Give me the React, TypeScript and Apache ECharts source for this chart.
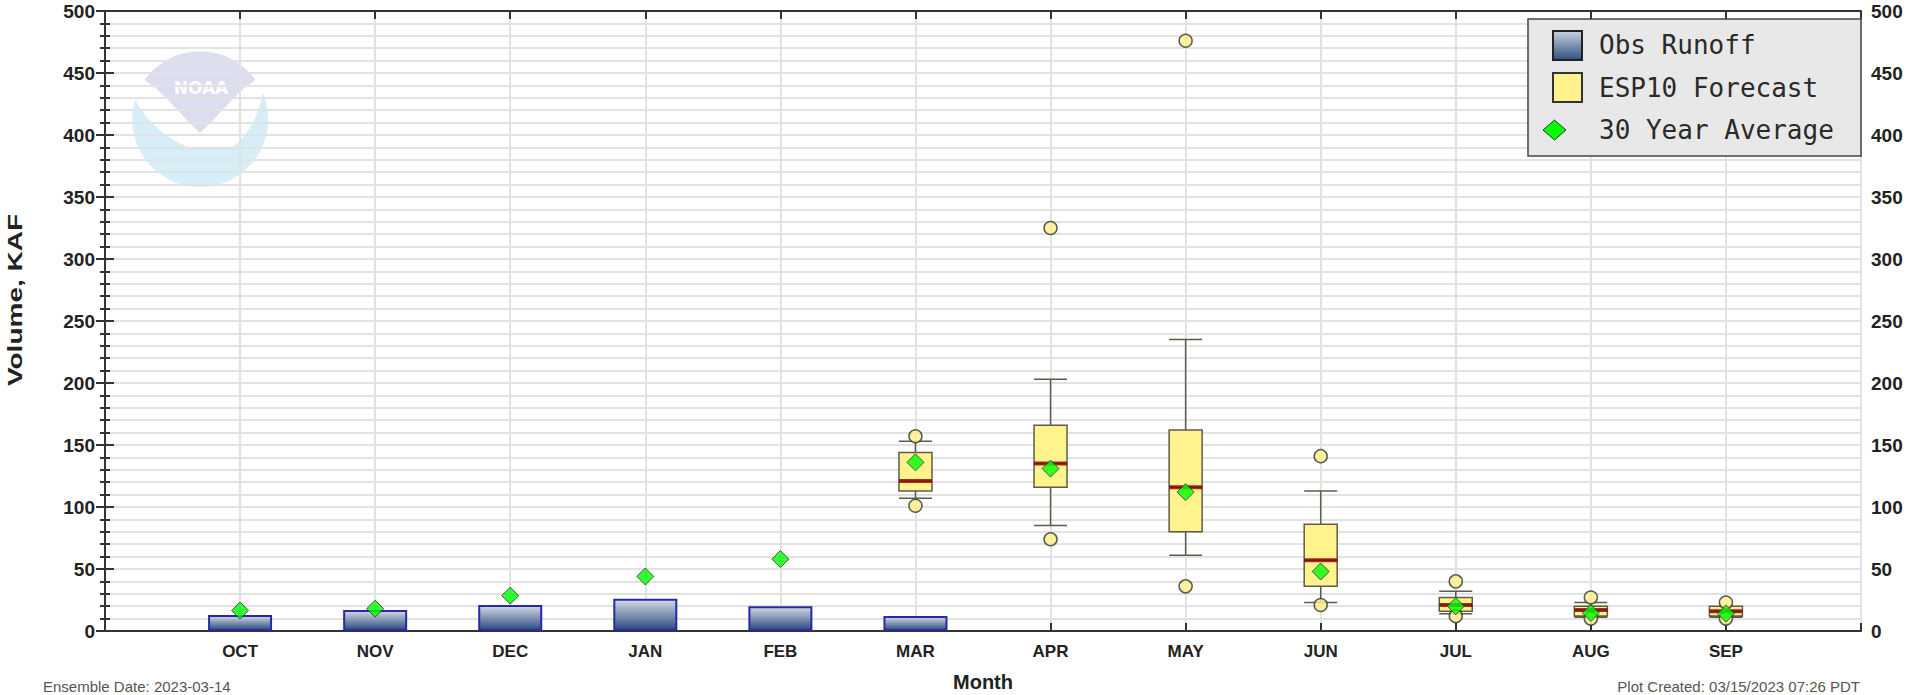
import React, { useEffect, useRef } from 'react';
import * as echarts from 'echarts';

// ---------- data ----------
const months = ['OCT', 'NOV', 'DEC', 'JAN', 'FEB', 'MAR', 'APR', 'MAY', 'JUN', 'JUL', 'AUG', 'SEP'];
const obsMonths = ['OCT', 'NOV', 'DEC', 'JAN', 'FEB', 'MAR'];
const obsRunoff = [13, 17, 21, 26, 20, 12];
const avg30 = [16.5, 18, 28.5, 44, 58, 136, 131, 112, 48, 20, 14.5, 14];
const espMonths = ['MAR', 'APR', 'MAY', 'JUN', 'JUL', 'AUG', 'SEP'];
const espMin = [107, 85, 61, 23, 14, 11, 11];
const espQ1 = [113, 116, 80, 36, 16, 12, 12];
const espMedian = [121, 135, 116, 57, 21, 17, 16];
const espQ3 = [144, 166, 162, 86, 27, 20, 20];
const espMax = [153, 203, 235, 113, 32, 23, 20];
const espLowOutlier = [101, 74, 36, 21, 12, 10, 10];
const espHighOutlier = [157, 325, 476, 141, 40, 27, 23];
const legendLabels = ['Obs Runoff', 'ESP10 Forecast', '30 Year Average'];
const ensembleText = 'Ensemble Date: 2023-03-14';
const createdText = 'Plot Created: 03/15/2023 07:26 PDT';

// NOAA watermark shapes
const cyanPath = 'M 135 100 C 150 125 170 142 195 149 L 232 147 C 246 138 258 118 263 93 A 68 68 0 1 1 135 100 Z';
const topPath = 'M 144.5 80 A 68 68 0 0 1 255.5 80 C 236 92 218 117 200 133 C 182 117 164 92 144.5 80 Z';
echarts.graphic.registerShape('noaaCyan', echarts.graphic.extendPath(cyanPath, {}));
echarts.graphic.registerShape('noaaTop', echarts.graphic.extendPath(topPath, {}));

const xPos = (m: string) => months.indexOf(m) + 1;

const AXIS = '#333';
const GRID = '#e2e2e2';
const FONT = 'Liberation Sans';

export default function App() {
  const ref = useRef<HTMLDivElement>(null);
  useEffect(() => {
    if (!ref.current) return;
    const chart = echarts.init(ref.current, undefined, { renderer: 'svg' });

    const barGrad = new echarts.graphic.LinearGradient(0, 0, 0, 1, [
      { offset: 0, color: '#d2d9e3' },
      { offset: 1, color: '#2b4a7e' },
    ]);
    const legGrad = new echarts.graphic.LinearGradient(0, 0, 0, 1, [
      { offset: 0, color: '#c8d2e0' },
      { offset: 1, color: '#2f4f82' },
    ]);

    const yAxisBase = {
      type: 'value',
      min: 0,
      max: 500,
      interval: 50,
      axisLine: { show: true, lineStyle: { color: AXIS, width: 2 } },
      axisTick: { show: true, inside: true, length: 9, lineStyle: { color: AXIS, width: 2 } },
      minorTick: { show: true, splitNumber: 5, length: 5, lineStyle: { color: AXIS, width: 2 } },
      axisLabel: { color: '#222', fontSize: 19, fontWeight: 'bold', fontFamily: FONT, margin: 10 },
    };
    const xAxisBase = {
      type: 'value',
      min: 0,
      max: 13,
      interval: 1,
      axisLine: { show: true, onZero: false, lineStyle: { color: AXIS, width: 2 } },
      axisTick: { show: true, inside: true, length: 8, lineStyle: { color: AXIS, width: 2 } },
    };

    const option: any = {
      animation: false,
      grid: { left: 105, right: 54, top: 11, bottom: 64, containLabel: false },
      xAxis: [
        {
          ...xAxisBase,
          position: 'bottom',
          axisLabel: {
            show: true,
            margin: 12,
            color: '#222',
            fontSize: 17,
            fontWeight: 'bold',
            fontFamily: FONT,
            showMinLabel: true,
            showMaxLabel: true,
            formatter: (v: number) => months[v - 1] ?? '',
          },
          splitLine: { show: true, lineStyle: { color: GRID, width: 2 } },
        },
        {
          ...xAxisBase,
          position: 'top',
          axisLabel: { show: false },
          splitLine: { show: false },
        },
      ],
      yAxis: [
        {
          ...yAxisBase,
          position: 'left',
          splitLine: { show: true, lineStyle: { color: GRID, width: 2 } },
          minorSplitLine: { show: true, lineStyle: { color: GRID, width: 2 } },
        },
        {
          ...yAxisBase,
          position: 'right',
          splitLine: { show: false },
          minorSplitLine: { show: false },
        },
      ],
      series: [
        {
          name: 'Obs Runoff',
          type: 'bar',
          barWidth: 64,
          data: obsRunoff.map((v, i) => [xPos(obsMonths[i]), v]),
          itemStyle: { color: barGrad, borderColor: '#2828a8', borderWidth: 2 },
          z: 2,
        },
        {
          name: 'ESP10 Forecast',
          type: 'boxplot',
          layout: 'horizontal',
          boxWidth: [33, 33],
          data: espMonths.map((m, i) => [xPos(m), espMin[i], espQ1[i], espMedian[i], espQ3[i], espMax[i]]),
          itemStyle: { color: '#fff38e', borderColor: '#5e5c48', borderWidth: 1.5 },
          z: 3,
        },
        {
          name: 'Median',
          type: 'scatter',
          symbol: 'rect',
          symbolSize: [33, 4],
          data: espMonths.map((m, i) => [xPos(m), espMedian[i]]),
          itemStyle: { color: '#8b0000' },
          z: 4,
        },
        {
          name: 'Outliers',
          type: 'scatter',
          symbol: 'circle',
          symbolSize: 13,
          data: [
            ...espMonths.map((m, i) => [xPos(m), espLowOutlier[i]]),
            ...espMonths.map((m, i) => [xPos(m), espHighOutlier[i]]),
          ],
          itemStyle: { color: '#fff08a', borderColor: '#333', borderWidth: 1.5 },
          z: 5,
        },
        {
          name: '30 Year Average',
          type: 'scatter',
          symbol: 'diamond',
          symbolSize: 17,
          data: avg30.map((v, i) => [i + 1, v]),
          itemStyle: { color: '#00ff00', borderColor: '#333', borderWidth: 1 },
          z: 6,
        },
      ],
      graphic: {
        elements: [
          { type: 'circle', shape: { cx: 200, cy: 119, r: 68 }, style: { fill: '#ffffff' }, z: -12, silent: true },
          { type: 'noaaCyan', x: 0, y: 0, scaleX: 1, scaleY: 1, style: { fill: '#d6eef8' }, z: -10, silent: true },
          { type: 'noaaTop', x: 0, y: 0, scaleX: 1, scaleY: 1, style: { fill: '#dcdef0' }, z: -10, silent: true },
          {
            type: 'text', x: 201, y: 88, z: -9, silent: true,
            style: { text: 'NOAA', fontSize: 17, fontWeight: 'bold', fontFamily: 'DejaVu Sans', fill: '#ffffff', align: 'center', verticalAlign: 'middle', textAlign: 'center', textVerticalAlign: 'middle' },
          },
          // legend
          { type: 'rect', shape: { x: 1528, y: 19, width: 333, height: 137 }, style: { fill: '#e8e8e8', stroke: '#444', lineWidth: 1.5 }, z: 100 },
          { type: 'rect', shape: { x: 1553, y: 31, width: 29, height: 29 }, style: { fill: legGrad, stroke: '#222', lineWidth: 2 }, z: 101 },
          { type: 'rect', shape: { x: 1553, y: 73, width: 29, height: 29 }, style: { fill: '#fff28c', stroke: '#333', lineWidth: 2 }, z: 101 },
          { type: 'polygon', shape: { points: [[1554.5, 120], [1566, 130], [1554.5, 140], [1543, 130]] }, style: { fill: '#00ff00', stroke: '#333', lineWidth: 1 }, z: 101 },
          ...legendLabels.map((t, i) => ({
            type: 'text', x: 1599, y: [45, 87.5, 130][i], z: 101,
            style: { text: t, fontSize: 26, fontFamily: 'DejaVu Sans Mono', fill: '#2a2a2a', align: 'left', verticalAlign: 'middle', textAlign: 'left', textVerticalAlign: 'middle' },
          })),
          // axis names
          {
            type: 'text', x: 15, y: 300, rotation: Math.PI / 2, scaleX: 1.4, scaleY: 1, z: 50,
            style: { text: 'Volume, KAF', fontSize: 20, fontWeight: 'bold', fontFamily: FONT, fill: '#222', align: 'center', verticalAlign: 'middle', textAlign: 'center', textVerticalAlign: 'middle' },
          },
          {
            type: 'text', x: 983, y: 682, z: 50,
            style: { text: 'Month', fontSize: 20, fontWeight: 'bold', fontFamily: FONT, fill: '#222', align: 'center', verticalAlign: 'middle', textAlign: 'center', textVerticalAlign: 'middle' },
          },
          {
            type: 'text', x: 43, y: 686, z: 50,
            style: { text: ensembleText, fontSize: 15, fontFamily: FONT, fill: '#555', align: 'left', verticalAlign: 'middle', textAlign: 'left', textVerticalAlign: 'middle' },
          },
          {
            type: 'text', x: 1860, y: 686, z: 50,
            style: { text: createdText, fontSize: 15, fontFamily: FONT, fill: '#555', align: 'right', verticalAlign: 'middle', textAlign: 'right', textVerticalAlign: 'middle' },
          },
        ],
      },
    };

    chart.setOption(option);
    return () => chart.dispose();
  }, []);

  return (
    <div
      ref={ref}
      style={{ position: 'absolute', left: 0, top: 0, width: 1915, height: 695, background: '#ffffff' }}
    />
  );
}
